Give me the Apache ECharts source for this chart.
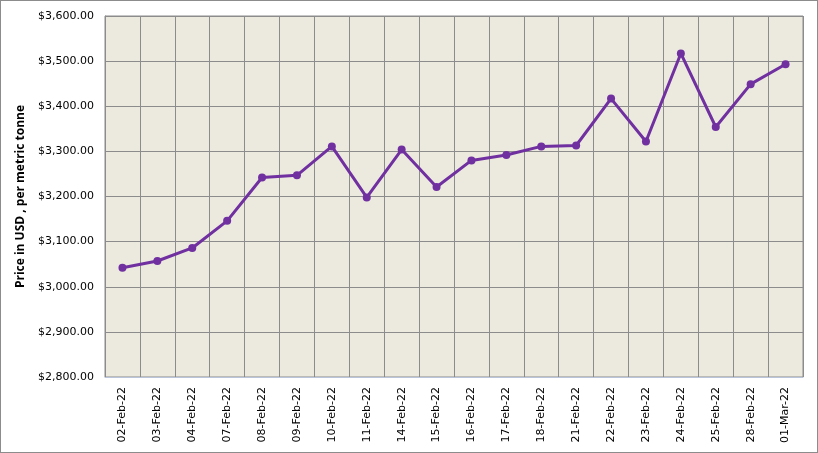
<!DOCTYPE html>
<html>
<head>
<meta charset="utf-8">
<script src="https://cdn.jsdelivr.net/npm/echarts@6/dist/echarts.min.js"></script>
<style>
  html, body { margin: 0; padding: 0; background: #fff; }
  #main { width: 818px; height: 453px; box-sizing: border-box; border: 1px solid #8c8c8c; }
</style>
</head>
<body>
<div id="main"></div>
<script>
// dates and prices (USD per metric tonne)
var dates = ['02-Feb-22', '03-Feb-22', '04-Feb-22', '07-Feb-22', '08-Feb-22', '09-Feb-22', '10-Feb-22',
  '11-Feb-22', '14-Feb-22', '15-Feb-22', '16-Feb-22', '17-Feb-22', '18-Feb-22', '21-Feb-22',
  '22-Feb-22', '23-Feb-22', '24-Feb-22', '25-Feb-22', '28-Feb-22', '01-Mar-22'];
var prices = [3042, 3057, 3086, 3146, 3242, 3247, 3311, 3198, 3304, 3221,
  3280, 3292, 3311, 3313, 3417, 3322, 3517, 3354, 3449, 3493];
var yMin = 2800, yMax = 3600, yStep = 100;

var chart = echarts.init(document.getElementById('main'));

function money(v) {
  return '$' + v.toLocaleString('en-US', { minimumFractionDigits: 2, maximumFractionDigits: 2 });
}

var option = {
  animation: false,
  textStyle: { fontFamily: 'DejaVu Sans' },
  grid: {
    left: 104, right: 14, top: 15, bottom: 75,
    show: true, backgroundColor: '#ECE9DF', borderColor: '#8c8c8c', borderWidth: 1
  },
  xAxis: {
    type: 'category',
    data: dates,
    boundaryGap: true,
    axisLine: { lineStyle: { color: '#b9c4da', width: 1 } },
    axisTick: { show: false },
    axisLabel: { rotate: 90, margin: 10, color: '#000', fontSize: 11, interval: 0 },
    splitLine: { show: true, interval: 0, lineStyle: { color: '#8c8c8c', width: 1 } }
  },
  yAxis: {
    type: 'value',
    min: yMin, max: yMax, interval: yStep,
    name: 'Price in USD , per metric tonne',
    nameLocation: 'middle',
    nameGap: 78,
    nameTextStyle: { fontFamily: 'Open Sans', fontWeight: 'bold', fontSize: 12, color: '#000' },
    axisLine: { show: true, lineStyle: { color: '#8c8c8c' } },
    axisTick: { show: false },
    axisLabel: { margin: 11, color: '#000', fontSize: 11, formatter: money },
    splitLine: { show: true, lineStyle: { color: '#8c8c8c', width: 1 } }
  },
  series: [{
    type: 'line',
    data: prices,
    symbol: 'circle',
    symbolSize: 8,
    lineStyle: { color: '#7030A0', width: 3 },
    itemStyle: { color: '#7030A0' }
  }]
};

chart.setOption(option);
</script>
</body>
</html>
